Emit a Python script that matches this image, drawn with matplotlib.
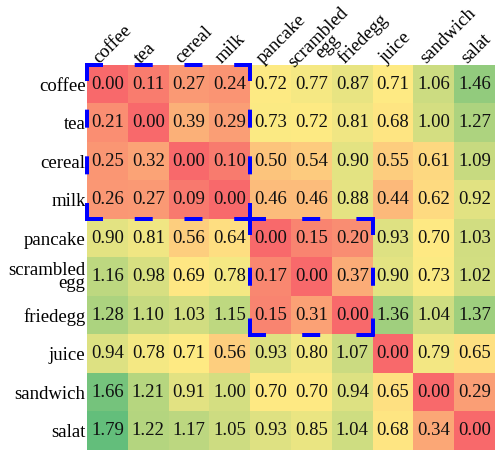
import numpy as np
import matplotlib
matplotlib.use("Agg")
import matplotlib.pyplot as plt
from matplotlib.colors import LinearSegmentedColormap, TwoSlopeNorm
from matplotlib.lines import Line2D

labels = ["coffee", "tea", "cereal", "milk", "pancake", "scrambled\negg",
          "friedegg", "juice", "sandwich", "salat"]

row_coffee = [0.00, 0.11, 0.27, 0.24, 0.72, 0.77, 0.87, 0.71, 1.06, 1.46]
row_tea = [0.21, 0.00, 0.39, 0.29, 0.73, 0.72, 0.81, 0.68, 1.00, 1.27]
row_cereal = [0.25, 0.32, 0.00, 0.10, 0.50, 0.54, 0.90, 0.55, 0.61, 1.09]
row_milk = [0.26, 0.27, 0.09, 0.00, 0.46, 0.46, 0.88, 0.44, 0.62, 0.92]
row_pancake = [0.90, 0.81, 0.56, 0.64, 0.00, 0.15, 0.20, 0.93, 0.70, 1.03]
row_scrambled = [1.16, 0.98, 0.69, 0.78, 0.17, 0.00, 0.37, 0.90, 0.73, 1.02]
row_friedegg = [1.28, 1.10, 1.03, 1.15, 0.15, 0.31, 0.00, 1.36, 1.04, 1.37]
row_juice = [0.94, 0.78, 0.71, 0.56, 0.93, 0.80, 1.07, 0.00, 0.79, 0.65]
row_sandwich = [1.66, 1.21, 0.91, 1.00, 0.70, 0.70, 0.94, 0.65, 0.00, 0.29]
row_salat = [1.79, 1.22, 1.17, 1.05, 0.93, 0.85, 1.04, 0.68, 0.34, 0.00]

# highlighted blocks: (first index, last index)
blocks = [(0, 3), (4, 6)]

data = np.array([row_coffee, row_tea, row_cereal, row_milk, row_pancake,
                 row_scrambled, row_friedegg, row_juice, row_sandwich, row_salat])

plt.rcParams['font.family'] = ['Liberation Serif', 'DejaVu Serif']
plt.rcParams['lines.scale_dashes'] = False

cmap = LinearSegmentedColormap.from_list("excel", ["#F8696B", "#FFEB84", "#63BE7B"])
norm = TwoSlopeNorm(vmin=data.min(), vcenter=np.median(data), vmax=data.max())

W, H = 495, 450
AX_L, AX_W, AX_H = 87, 408, 385
fig = plt.figure(figsize=(W / 100, H / 100), dpi=100)
ax = fig.add_axes([AX_L / W, 0.0, AX_W / W, AX_H / H])
n = len(labels)
ax.imshow(data, cmap=cmap, norm=norm, aspect='auto', interpolation='nearest')

FS = 13.5
for i in range(n):
    for j in range(n):
        ax.text(j, i, f"{data[i, j]:.2f}", ha='center', va='center',
                fontsize=FS, color='#111111')

ax.set_xticks([])
ax.set_yticks(range(n))
ax.set_yticklabels(labels, fontsize=FS, multialignment='right', linespacing=0.7)
ax.tick_params(length=0, pad=1)
for s in ax.spines.values():
    s.set_visible(False)

for j, lab in enumerate(labels):
    if "\n" in lab:
        x, y = j - 0.12, -0.11
    else:
        x, y = j - 0.12, -0.46
    ax.text(x, y, lab, rotation=45, rotation_mode='anchor',
            ha='left', va='bottom', fontsize=FS, multialignment='center',
            linespacing=0.7, clip_on=False)

# dashed borders, each side with dashes at both corners
pxx = AX_W / n   # pixels per data unit in x
pxy = AX_H / n   # pixels per data unit in y
LW_PX = 4.0
DASH_PX = 18.0
PERIOD_PX = 50.0


def side(x0, y0, x1, y1):
    horiz = (y0 == y1)
    if horiz:
        ext = (LW_PX / 2) / pxx
        xa, xb = x0 - ext, x1 + ext
        L = (xb - xa) * pxx
        xs, ys = [xa, xb], [y0, y1]
    else:
        ext = (LW_PX / 2) / pxy
        ya, yb = y0 - ext, y1 + ext
        L = (yb - ya) * pxy
        xs, ys = [x0, x1], [ya, yb]
    k = max(1, int(round((L - DASH_PX) / PERIOD_PX)))
    gap = (L - DASH_PX) / k - DASH_PX
    ln = Line2D(xs, ys, color='blue', linewidth=LW_PX * 0.72,
                dashes=(DASH_PX * 0.72, gap * 0.72), dash_capstyle='butt',
                clip_on=False, zorder=5)
    ax.add_line(ln)


for a, b in blocks:
    lo, hi = a - 0.5, b + 0.5
    side(lo, lo, hi, lo)
    side(lo, hi, hi, hi)
    side(lo, lo, lo, hi)
    side(hi, lo, hi, hi)

fig.savefig("out.png", dpi=100)
